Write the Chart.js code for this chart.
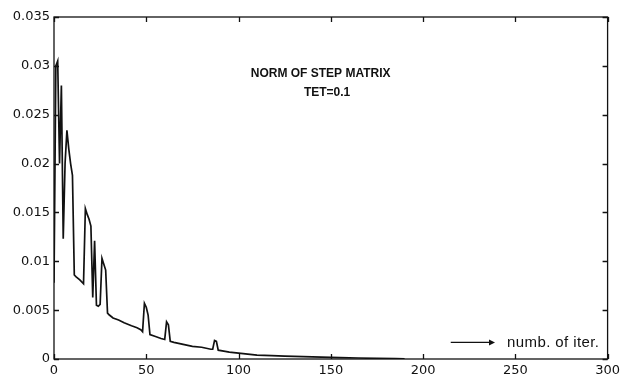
<!DOCTYPE html>
<html>
<head>
<meta charset="utf-8">
<script src="https://cdn.jsdelivr.net/npm/chart.js@4/dist/chart.umd.min.js"></script>
<style>
  html, body { margin: 0; padding: 0; background: #fff; }
  #wrap { width: 624px; height: 379px; }
</style>
</head>
<body>
<div id="wrap"><canvas id="c" width="624" height="379"></canvas></div>
<script>
// iteration number and norm of step matrix
const iters = [0, 1, 2, 3, 4, 5, 6, 7, 8, 9, 10, 11, 12, 14, 16, 17, 18, 19, 20, 21,
  22, 23, 24, 25, 26, 27, 28, 29, 30, 32, 35, 38, 42, 45, 47, 48, 49, 50, 51, 52,
  55, 58, 60, 61, 62, 63, 65, 70, 75, 80, 85, 86, 87, 88, 89, 92, 95, 100, 105,
  110, 118, 125, 135, 145, 155, 165, 175, 185, 190];
const norms = [0.0078, 0.0300, 0.0305, 0.0200, 0.0280, 0.0123, 0.0200, 0.0234, 0.0215, 0.0200,
  0.0188, 0.0086, 0.0084, 0.0081, 0.0077, 0.0154, 0.0148, 0.0143, 0.0136, 0.0063,
  0.0121, 0.0055, 0.0054, 0.0056, 0.0103, 0.0097, 0.0091, 0.0047, 0.0045, 0.0042,
  0.0040, 0.0037, 0.0034, 0.0032, 0.0030, 0.0028, 0.0057, 0.0053, 0.0045, 0.0025,
  0.0023, 0.0021, 0.0020, 0.0038, 0.0035, 0.0018, 0.0017, 0.0015, 0.0013, 0.0012,
  0.0010, 0.0010, 0.0019, 0.0018, 0.0009, 0.0008, 0.0007, 0.0006, 0.0005,
  0.0004, 0.00035, 0.0003, 0.00025, 0.0002, 0.00015, 0.0001, 0.00007, 0.00004, 0.00002];

const xTicks = [0, 50, 100, 150, 200, 250, 300];
const yTicks = [0, 0.005, 0.01, 0.015, 0.02, 0.025, 0.03, 0.035];
const yLabels = ['0', '0.005', '0.01', '0.015', '0.02', '0.025', '0.03', '0.035'];

const titleLines = ['NORM OF STEP MATRIX', 'TET=0.1'];
const noteText = 'numb. of iter.';

const points = iters.map((x, i) => ({ x, y: norms[i] }));

// matlab style box with inward ticks + the text inside the axes
const boxPlugin = {
  id: 'box',
  afterDraw(chart) {
    const { ctx, chartArea: a, scales } = chart;
    const xs = scales.x, ys = scales.y;
    ctx.save();
    ctx.strokeStyle = '#111';
    ctx.lineWidth = 1.3;
    ctx.strokeRect(a.left, a.top, a.right - a.left, a.bottom - a.top);
    const tl = 5;
    ctx.beginPath();
    xTicks.forEach(v => {
      const px = Math.round(xs.getPixelForValue(v)) + 0.5;
      ctx.moveTo(px, a.bottom); ctx.lineTo(px, a.bottom - tl);
      ctx.moveTo(px, a.top); ctx.lineTo(px, a.top + tl);
    });
    yTicks.forEach(v => {
      const py = Math.round(ys.getPixelForValue(v)) + 0.5;
      ctx.moveTo(a.left, py); ctx.lineTo(a.left + tl, py);
      ctx.moveTo(a.right, py); ctx.lineTo(a.right - tl, py);
    });
    ctx.stroke();

    // title inside plot
    ctx.fillStyle = '#111';
    ctx.textAlign = 'center';
    ctx.textBaseline = 'middle';
    ctx.font = 'bold 12px "Liberation Sans", Arial, sans-serif';
    ctx.fillText(titleLines[0], xs.getPixelForValue(144.5), ys.getPixelForValue(0.0292));
    ctx.fillText(titleLines[1], xs.getPixelForValue(148), ys.getPixelForValue(0.0273));

    // arrow + note
    const ay = ys.getPixelForValue(0.0017);
    const x0 = xs.getPixelForValue(215), x1 = xs.getPixelForValue(239);
    ctx.lineWidth = 1.3;
    ctx.beginPath();
    ctx.moveTo(x0, ay); ctx.lineTo(x1 - 4, ay);
    ctx.stroke();
    ctx.beginPath();
    ctx.moveTo(x1, ay); ctx.lineTo(x1 - 6, ay - 3); ctx.lineTo(x1 - 6, ay + 3); ctx.closePath();
    ctx.fill();
    ctx.textAlign = 'left';
    ctx.font = '15px "Liberation Sans", Arial, sans-serif';
    ctx.letterSpacing = '0.4px';
    ctx.fillText(noteText, xs.getPixelForValue(245.5), ay);
    ctx.restore();
  }
};

new Chart(document.getElementById('c'), {
  type: 'line',
  data: {
    datasets: [{
      data: points,
      borderColor: '#111',
      borderWidth: 1.7,
      pointRadius: 0,
      tension: 0,
      fill: false
    }]
  },
  options: {
    responsive: false,
    animation: false,
    events: [],
    layout: { padding: { top: 17, right: 14, left: 0, bottom: 0 } },
    plugins: { legend: { display: false }, tooltip: { enabled: false } },
    scales: {
      x: {
        type: 'linear', min: 0, max: 300,
        afterBuildTicks: s => { s.ticks = xTicks.map(v => ({ value: v })); },
        afterFit: s => { s.height = 20; },
        grid: { display: false, drawTicks: false },
        border: { display: false },
        ticks: {
          color: '#111', padding: 4, maxRotation: 0,
          font: { family: '"DejaVu Sans", sans-serif', size: 13 },
          callback: v => String(v)
        }
      },
      y: {
        type: 'linear', min: 0, max: 0.035,
        afterBuildTicks: s => { s.ticks = yTicks.map(v => ({ value: v })); },
        afterFit: s => { s.width = 54; },
        grid: { display: false, drawTicks: false },
        border: { display: false },
        ticks: {
          color: '#111', padding: 4,
          font: { family: '"DejaVu Sans", sans-serif', size: 13 },
          callback: v => yLabels[yTicks.findIndex(t => Math.abs(t - v) < 1e-9)]
        }
      }
    }
  },
  plugins: [boxPlugin]
});
</script>
</body>
</html>
